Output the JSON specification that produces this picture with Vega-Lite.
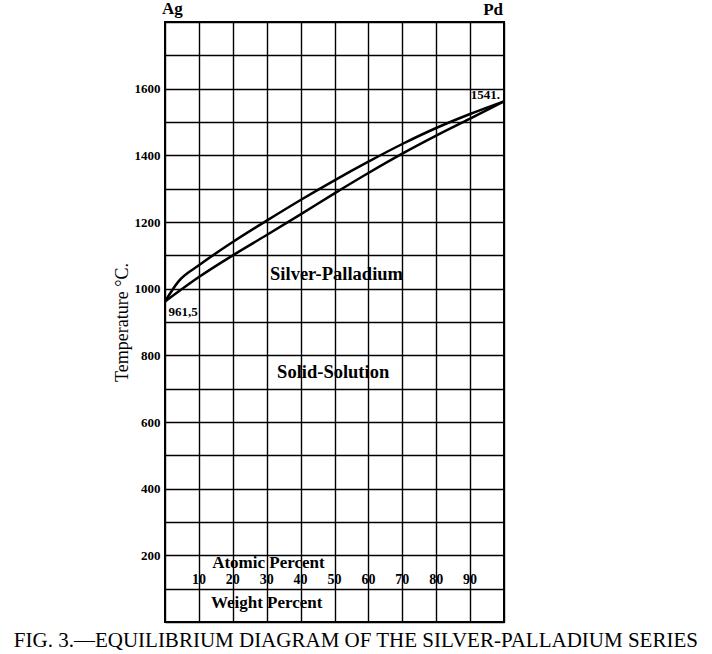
{
  "$schema": "https://vega.github.io/schema/vega-lite/v6.json",
  "width": 339,
  "height": 600,
  "autosize": "none",
  "padding": {"left": 165, "top": 22, "right": 208, "bottom": 32},
  "background": "white",
  "config": {
    "view": {"stroke": "black", "strokeWidth": 2},
    "font": "Liberation Serif"
  },
  "datasets": {
    "curves": [
      {"pct": 0, "temp": 961.5, "curve": "liquidus"},
      {"pct": 4, "temp": 1022, "curve": "liquidus"},
      {"pct": 10, "temp": 1070, "curve": "liquidus"},
      {"pct": 20, "temp": 1140, "curve": "liquidus"},
      {"pct": 30, "temp": 1204, "curve": "liquidus"},
      {"pct": 40, "temp": 1266, "curve": "liquidus"},
      {"pct": 50, "temp": 1325, "curve": "liquidus"},
      {"pct": 60, "temp": 1381, "curve": "liquidus"},
      {"pct": 70, "temp": 1434, "curve": "liquidus"},
      {"pct": 80, "temp": 1482, "curve": "liquidus"},
      {"pct": 90, "temp": 1524, "curve": "liquidus"},
      {"pct": 100, "temp": 1562, "curve": "liquidus"},
      {"pct": 0, "temp": 961.5, "curve": "solidus"},
      {"pct": 10, "temp": 1035, "curve": "solidus"},
      {"pct": 20, "temp": 1100, "curve": "solidus"},
      {"pct": 30, "temp": 1161, "curve": "solidus"},
      {"pct": 40, "temp": 1223, "curve": "solidus"},
      {"pct": 50, "temp": 1286, "curve": "solidus"},
      {"pct": 60, "temp": 1347, "curve": "solidus"},
      {"pct": 70, "temp": 1405, "curve": "solidus"},
      {"pct": 80, "temp": 1459, "curve": "solidus"},
      {"pct": 90, "temp": 1510, "curve": "solidus"},
      {"pct": 100, "temp": 1562, "curve": "solidus"}
    ],
    "regions": [
      {"pct": 50.6, "temp": 1045, "label": "Silver-Palladium"},
      {"pct": 49.6, "temp": 749, "label": "Solid-Solution"}
    ],
    "points": [
      {"pct": 1, "temp": 930, "label": "961,5"}
    ],
    "pdpoint": [
      {"pct": 98.8, "temp": 1582, "label": "1541."}
    ],
    "ticks": [
      {"pct": 10, "temp": 125, "label": "10"},
      {"pct": 20, "temp": 125, "label": "20"},
      {"pct": 30, "temp": 125, "label": "30"},
      {"pct": 40, "temp": 125, "label": "40"},
      {"pct": 50, "temp": 125, "label": "50"},
      {"pct": 60, "temp": 125, "label": "60"},
      {"pct": 70, "temp": 125, "label": "70"},
      {"pct": 80, "temp": 125, "label": "80"},
      {"pct": 90, "temp": 125, "label": "90"}
    ],
    "scales": [
      {"pct": 30.5, "temp": 176, "label": "Atomic Percent"},
      {"pct": 30, "temp": 57, "label": "Weight Percent"}
    ],
    "elements": [
      {"pct": 2.2, "temp": 1839, "label": "Ag"},
      {"pct": 96.8, "temp": 1836, "label": "Pd"}
    ],
    "caption": [
      {"pct": 56.3, "temp": -57, "label": "FIG. 3.—EQUILIBRIUM DIAGRAM OF THE SILVER-PALLADIUM SERIES"}
    ]
  },
  "encoding": {
    "x": {
      "field": "pct", "type": "quantitative",
      "scale": {"domain": [0, 100], "nice": false, "zero": false},
      "axis": {
        "values": [0, 10, 20, 30, 40, 50, 60, 70, 80, 90, 100],
        "grid": true, "gridColor": "black", "gridWidth": 1.4, "gridOpacity": 1,
        "labels": false, "ticks": false, "domain": false, "title": null
      }
    },
    "y": {
      "field": "temp", "type": "quantitative",
      "scale": {"domain": [0, 1800], "nice": false, "zero": false},
      "axis": {
        "values": [0, 100, 200, 300, 400, 500, 600, 700, 800, 900, 1000, 1100, 1200, 1300, 1400, 1500, 1600, 1700, 1800],
        "labelExpr": "(datum.value % 200 == 0 && datum.value > 0 && datum.value < 1800) ? datum.label : ''",
        "format": "d",
        "grid": true, "gridColor": "black", "gridWidth": 1.4, "gridOpacity": 1,
        "ticks": false, "domain": false,
        "labelFont": "Liberation Serif", "labelFontWeight": "bold", "labelFontSize": 13,
        "labelColor": "black", "labelPadding": 5,
        "title": "Temperature °C.",
        "titleFont": "Liberation Serif", "titleFontWeight": "normal", "titleFontSize": 18,
        "titleColor": "black", "titlePadding": 3
      }
    }
  },
  "layer": [
    {
      "data": {"name": "curves"},
      "mark": {"type": "line", "color": "black", "strokeWidth": 2.5, "interpolate": "monotone"},
      "encoding": {"detail": {"field": "curve"}}
    },
    {
      "data": {"name": "regions"},
      "mark": {"type": "text", "font": "Liberation Serif", "fontWeight": "bold", "fontSize": 18.5, "color": "black", "align": "center", "baseline": "middle"},
      "encoding": {"text": {"field": "label"}}
    },
    {
      "data": {"name": "points"},
      "mark": {"type": "text", "font": "Liberation Serif", "fontWeight": "bold", "fontSize": 13, "color": "black", "align": "left", "baseline": "middle"},
      "encoding": {"text": {"field": "label"}}
    },
    {
      "data": {"name": "pdpoint"},
      "mark": {"type": "text", "font": "Liberation Serif", "fontWeight": "bold", "fontSize": 13, "color": "black", "align": "right", "baseline": "middle"},
      "encoding": {"text": {"field": "label"}}
    },
    {
      "data": {"name": "ticks"},
      "mark": {"type": "text", "font": "Liberation Serif", "fontWeight": "bold", "fontSize": 14, "color": "black", "align": "center", "baseline": "middle"},
      "encoding": {"text": {"field": "label"}}
    },
    {
      "data": {"name": "scales"},
      "mark": {"type": "text", "font": "Liberation Serif", "fontWeight": "bold", "fontSize": 17, "color": "black", "align": "center", "baseline": "middle"},
      "encoding": {"text": {"field": "label"}}
    },
    {
      "data": {"name": "elements"},
      "mark": {"type": "text", "font": "Liberation Serif", "fontWeight": "bold", "fontSize": 17, "color": "black", "align": "center", "baseline": "middle"},
      "encoding": {"text": {"field": "label"}}
    },
    {
      "data": {"name": "caption"},
      "mark": {"type": "text", "font": "Liberation Serif", "fontWeight": "normal", "fontSize": 21, "color": "black", "align": "center", "baseline": "middle"},
      "encoding": {"text": {"field": "label"}}
    }
  ]
}
